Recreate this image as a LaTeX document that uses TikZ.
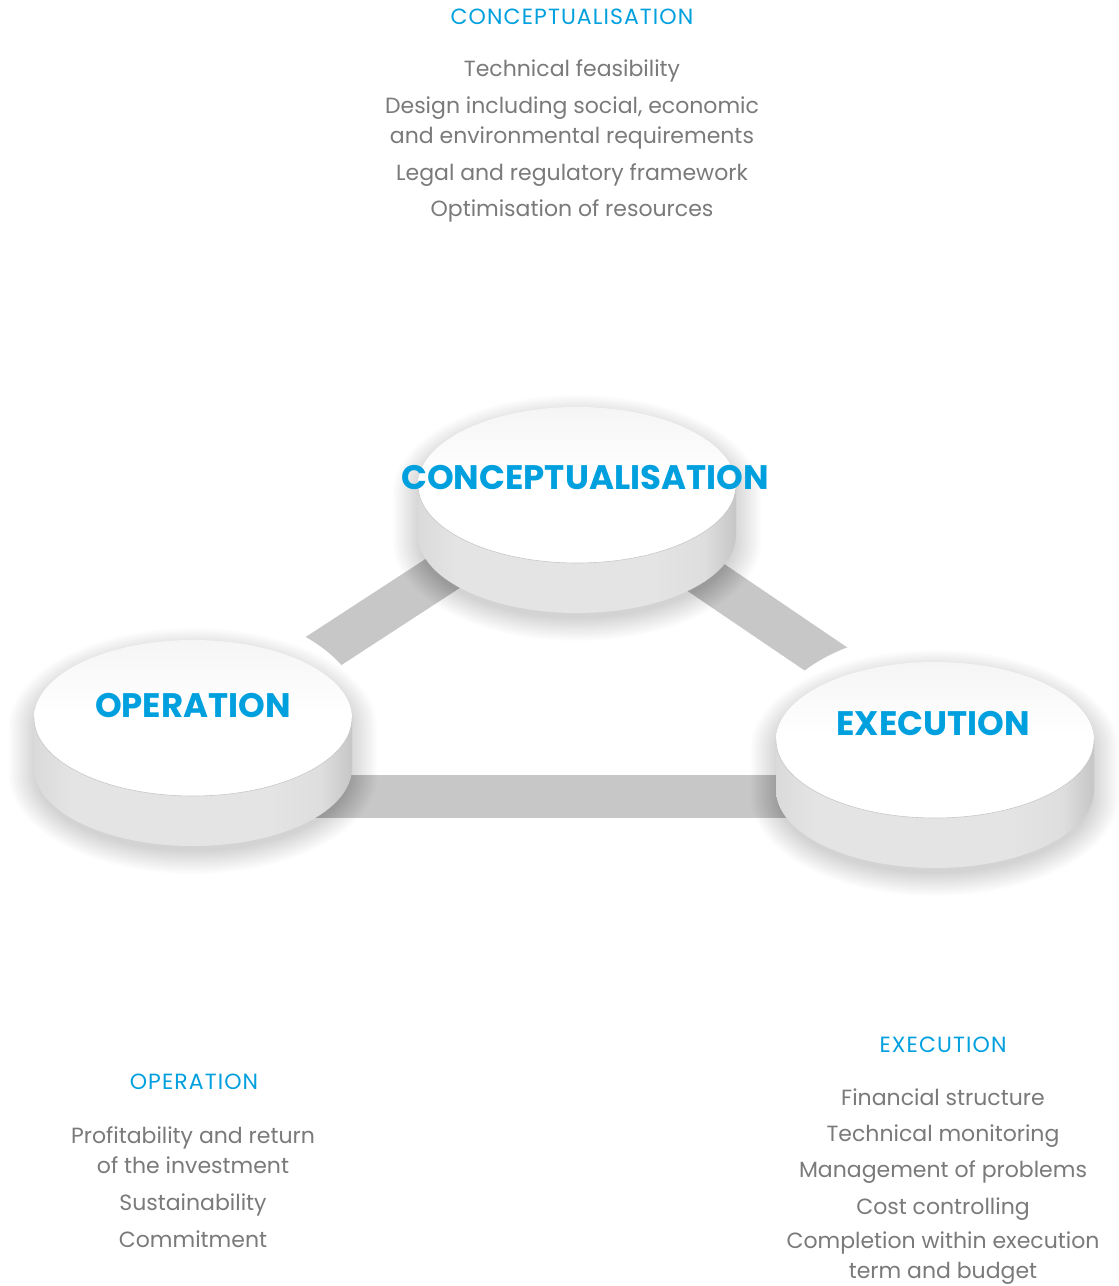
\documentclass[tikz,border=0pt]{standalone}
\usepackage{fontspec}
\setmainfont{Poppins}
\definecolor{titleblue}{RGB}{0,160,222}
\definecolor{txtgray}{RGB}{122,122,122}
\definecolor{barcol}{RGB}{198,199,198}
\definecolor{sideA}{RGB}{218,218,218}
\definecolor{sideB}{RGB}{228,228,228}
\definecolor{sideC}{RGB}{222,222,222}
\definecolor{sideD}{RGB}{198,198,198}
\definecolor{faceTop}{RGB}{245,245,245}
\definecolor{rimline}{RGB}{200,200,200}
\pgfdeclarehorizontalshading{sidewall}{100bp}{color(0bp)=(sideA); color(25bp)=(sideA); color(31bp)=(sideB); color(62bp)=(sideB); color(70bp)=(sideC); color(75bp)=(sideD); color(100bp)=(sideD)}
\pgfdeclareverticalshading{topface}{100bp}{color(0bp)=(white); color(25bp)=(white); color(52bp)=(white); color(75bp)=(faceTop); color(100bp)=(faceTop)}
\newcommand\diskoutline[5]{(#1+#3,#2) arc[start angle=0,end angle=-180,x radius=#3,y radius=#4] -- ++(0,#5) arc[start angle=180,end angle=0,x radius=#3,y radius=#4] -- cycle}
\newcommand\diskhalo[2]{\fill[white] (#1,#2) ellipse[x radius=170,y radius=108];}
\newcommand\drawdisk[2]{%
  \foreach \k in {1,...,22}{\fill[black,opacity=0.0065] \diskoutline{#1}{#2+10}{156+1.3*\k}{76+1.1*\k}{46};}
  \shade[shading=sidewall] \diskoutline{#1}{#2}{159}{78}{50};
  \shade[shading=topface] (#1,#2) ellipse[x radius=159,y radius=78];
  \draw[rimline,line width=0.6pt] (#1+159,#2) arc[start angle=0,end angle=180,x radius=159,y radius=78];
}
\tikzset{
  bar/.style={draw=barcol,line width=43pt,line cap=butt},
  disktitle/.style={anchor=base,inner sep=0pt,text=titleblue,font=\fontsize{34}{34}\selectfont\bfseries},
  head/.style={anchor=base,inner sep=0pt,text=titleblue,font=\fontsize{22}{22}\selectfont\addfontfeature{LetterSpace=5}},
  item/.style={anchor=base,inner sep=0pt,text=txtgray,align=center,font=\fontsize{22}{30}\selectfont},
}
\begin{document}
\begin{tikzpicture}[x=1pt,y=-1pt]
\useasboundingbox (0,0) rectangle (1119,1286);
\fill[white] (0,0) rectangle (1119,1286);
% anchor points of the connectors
\coordinate (oA) at (193,736);
\coordinate (cA) at (577,486);
\coordinate (cB) at (577,490);
\coordinate (eA) at (935,733);
\coordinate (oB) at (193,796);
\coordinate (eB) at (935,796);
% diagonal connectors
\draw[bar] (oA) -- (cA);
\draw[bar] (cB) -- (eA);
% white halos that cut the connector ends
\diskhalo{193}{718}
\diskhalo{935}{740}
% bottom connector
\draw[bar] (oB) -- (eB);
% disks
\drawdisk{577}{485}
\drawdisk{193}{718}
\drawdisk{935}{740}
\node[disktitle] (ctitle) at (585,489) {CONCEPTUALISATION};
\node[disktitle] (otitle) at (193,717) {OPERATION};
\node[disktitle] (etitle) at (933,735) {EXECUTION};
% top text block
\node[head] (chead) at (572,24) {CONCEPTUALISATION};
\node[item] (c1) at (572,76) {Technical feasibility};
\node[item] (c2) at (572,143) {Design including social, economic\\and environmental requirements};
\node[item] (c3) at (572,180) {Legal and regulatory framework};
\node[item] (c4) at (572,216) {Optimisation of resources};
% operation block
\node[head] (ohead) at (194,1089) {OPERATION};
\node[item] (o1) at (193,1173) {Profitability and return\\of the investment};
\node[item] (o2) at (193,1210) {Sustainability};
\node[item] (o3) at (193,1247) {Commitment};
% execution block
\node[head] (ehead) at (943,1052) {EXECUTION};
\node[item] (e1) at (943,1105) {Financial structure};
\node[item] (e2) at (943,1141) {Technical monitoring};
\node[item] (e3) at (943,1177) {Management of problems};
\node[item] (e4) at (943,1214) {Cost controlling};
\node[item] (e5) at (943,1278) {Completion within execution\\term and budget};
\end{tikzpicture}
\end{document}
